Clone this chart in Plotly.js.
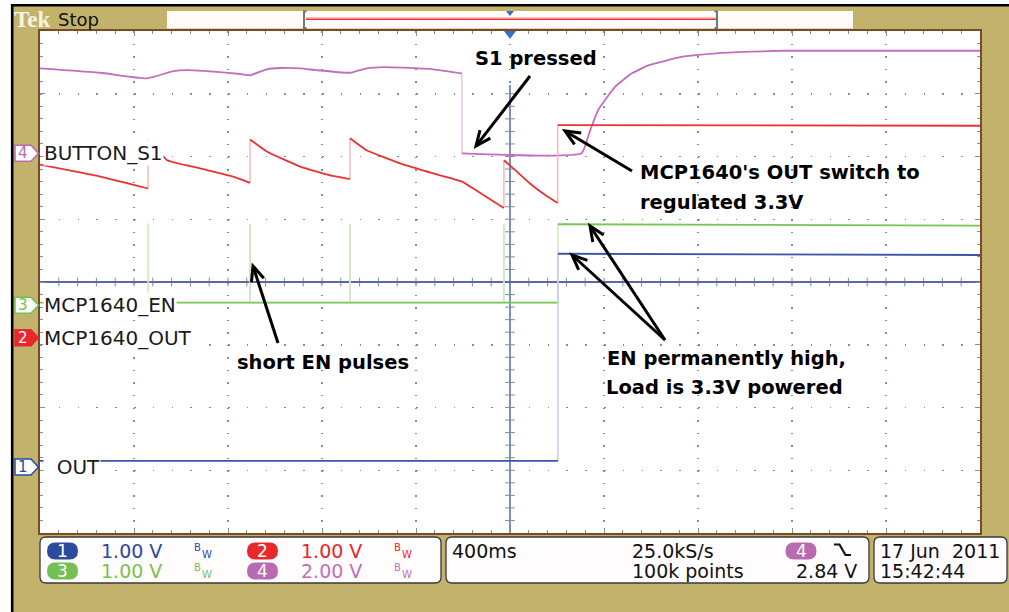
<!DOCTYPE html>
<html>
<head>
<meta charset="utf-8">
<script src="https://cdn.plot.ly/plotly-3.0.1.min.js"></script>
<style>html,body{margin:0;padding:0;background:#fff;}#chart{width:1009px;height:612px;}</style>
</head>
<body>
<div id="chart"></div>
<script>
// ---------------- data ----------------
const channelNumbers = ['1', '2', '3', '4'];
const channelNames   = ['OUT', 'MCP1640_OUT', 'MCP1640_EN', 'BUTTON_S1'];
const voltsPerDiv    = [1.00, 1.00, 1.00, 2.00];
const groundDiv      = [-2.95, -0.89, -0.37, 2.05];
const secPerDiv      = 0.4;

// CH1 OUT (blue)
const ch1Time  = [-2.00, 0.204, 0.204, 2.00];
const ch1Volts = [0.10, 0.10, 3.40, 3.38];

// CH2 MCP1640_OUT (red)
const ch2Time  = [-2.00, -1.744, -1.540, -1.540, -1.497, -1.459, -1.319, -1.178, -1.106, -1.106,
                  -1.035, -0.893, -0.753, -0.681, -0.681, -0.610, -0.468, -0.326, -0.204, -0.115,
                  -0.026, -0.026, 0.014, 0.085, 0.156, 0.203, 0.203, 2.00];
const ch2Volts = [2.76, 2.57, 2.38, 3.14, 2.99, 2.83, 2.70, 2.57, 2.47, 3.16,
                  2.97, 2.73, 2.58, 2.53, 3.18, 2.99, 2.78, 2.62, 2.49, 2.28,
                  2.07, 2.83, 2.70, 2.46, 2.26, 2.15, 3.39, 3.38];

// CH3 MCP1640_EN (green)
const ch3Time  = [-2.00, -1.539, -1.539, -1.539, -1.106, -1.106, -1.106, -0.681, -0.681, -0.681,
                  -0.026, -0.026, -0.026, 0.204, 0.204, 2.00];
const ch3Volts = [0.04, 0.04, 1.30, 0.04, 0.04, 1.30, 0.04, 0.04, 1.30, 0.04,
                  0.04, 1.30, 0.04, 0.04, 1.29, 1.27];

// CH4 BUTTON_S1 (purple)
const ch4Time  = [-2.00, -1.744, -1.545, -1.432, -1.375, -1.248, -1.148, -1.106, -1.035, -0.978,
                  -0.893, -0.822, -0.681, -0.610, -0.539, -0.454, -0.326, -0.205, -0.205, 0.304,
                  0.340, 0.375, 0.447, 0.519, 0.591, 0.735, 0.878, 1.022, 1.165, 2.00];
const ch4Volts = [2.71, 2.57, 2.39, 2.62, 2.65, 2.60, 2.53, 2.49, 2.68, 2.72,
                  2.71, 2.65, 2.57, 2.71, 2.75, 2.73, 2.68, 2.55, 0.00, 0.00,
                  0.71, 1.38, 2.12, 2.55, 2.81, 3.08, 3.19, 3.24, 3.27, 3.27];

const sampleRate   = '25.0kS/s';
const recordLength = '100k points';
const triggerLevel = '2.84 V';
const dateText     = '17 Jun\u00a0\u00a02011';
const timeText     = '15:42:44';

const callouts = ['S1 pressed', "MCP1640's OUT switch to", 'regulated 3.3V', 'short EN pulses',
                  'EN permanently high,', 'Load is 3.3V powered'];

// ---------------- styling ----------------
const KHAKI = '#c3b26c', BROWN = '#7a4a24', DOT = '#7d8ab2', CROSS = '#5b6a9c';
const traceColor = ['#3b55a8', '#ec3035', '#78c455', '#c46cbe'];
const edgeColor  = ['#c5cbe8', '#f7b9bb', '#cfe9c2', '#eec3ea'];
const pillColor  = ['#2b4c9e', '#e8282b', '#74c052', '#b96bb2'];
const textColor  = ['#2b4a9b', '#e8262b', '#7cc050', '#c070b8'];
const smooth     = [false, true, false, true];

// plot area in pixels
const L = 40, T = 31, W = 940, H = 502;
const PX = px => (px - L) / W;
const PY = py => (T + H - py) / H;
const divPx = H / 8;
const groundPx = g => T + H / 2 - g * divPx;

// ---------------- traces ----------------
const chTimes = [ch1Time, ch2Time, ch3Time, ch4Time];
const chVolts = [ch1Volts, ch2Volts, ch3Volts, ch4Volts];

function channelTraces(i) {
  const t = chTimes[i], v = chVolts[i];
  const main = {x: [], y: []}, edge = {x: [], y: []};
  for (let k = 0; k < t.length; k++) {
    const y = v[k] / voltsPerDiv[i] + groundDiv[i];
    if (k > 0 && t[k] === t[k - 1]) {
      const yPrev = v[k - 1] / voltsPerDiv[i] + groundDiv[i];
      edge.x.push(t[k - 1], t[k], null); edge.y.push(yPrev, y, null);
      main.x.push(null); main.y.push(null);
    }
    main.x.push(t[k]); main.y.push(y);
  }
  const line = {color: traceColor[i], width: 1.8};
  if (smooth[i]) { line.shape = 'spline'; line.smoothing = 0.4; }
  return [
    {type: 'scatter', mode: 'lines', x: edge.x, y: edge.y, hoverinfo: 'skip',
     line: {color: edgeColor[i], width: 1.5}},
    {type: 'scatter', mode: 'lines', x: main.x, y: main.y, hoverinfo: 'skip', line: line}
  ];
}
const data = [].concat(channelTraces(3), channelTraces(2), channelTraces(0), channelTraces(1));

// ---------------- shape helpers ----------------
function pathStr(cmds) {
  return cmds.map(c => {
    if (c[0] === 'Z') return 'Z';
    let s = c[0];
    for (let j = 1; j < c.length; j += 2) s += (j > 1 ? ' ' : '') + PX(c[j]).toFixed(5) + ',' + PY(c[j + 1]).toFixed(5);
    return s;
  }).join(' ');
}
function pathShape(cmds, fill, stroke, width, layer) {
  return {type: 'path', xref: 'paper', yref: 'paper', path: pathStr(cmds), layer: layer || 'above',
          fillcolor: fill || 'rgba(0,0,0,0)', line: {color: stroke || 'rgba(0,0,0,0)', width: width || 0}};
}
function rectPx(x0, y0, x1, y1, fill, stroke, width) {
  return {type: 'rect', xref: 'paper', yref: 'paper', x0: PX(x0), x1: PX(x1), y0: PY(y1), y1: PY(y0),
          fillcolor: fill, line: {color: stroke || 'rgba(0,0,0,0)', width: width || 0}, layer: 'above'};
}
function linePx(x0, y0, x1, y1, color, width) {
  return {type: 'line', xref: 'paper', yref: 'paper', x0: PX(x0), x1: PX(x1), y0: PY(y0), y1: PY(y1),
          line: {color: color, width: width}, layer: 'above'};
}
function rrect(x0, y0, x1, y1, r) {
  return [['M', x0 + r, y0], ['L', x1 - r, y0], ['Q', x1, y0, x1, y0 + r], ['L', x1, y1 - r],
          ['Q', x1, y1, x1 - r, y1], ['L', x0 + r, y1], ['Q', x0, y1, x0, y1 - r], ['L', x0, y0 + r],
          ['Q', x0, y0, x0 + r, y0], ['Z']];
}

const shapes = [];
// outer white margin + black frame
shapes.push(rectPx(0, 0, 1009, 4, '#ffffff'));
shapes.push(rectPx(0, 0, 11, 612, '#ffffff'));
shapes.push(linePx(11, 5.2, 1009, 5.2, '#000', 2.6));
shapes.push(linePx(12.2, 4, 12.2, 612, '#000', 2.6));

// status bar
shapes.push(rectPx(167, 11, 853, 28.5, '#fffbfb'));
shapes.push(linePx(306, 17.6, 716, 17.6, '#f5b8b8', 1));
shapes.push(linePx(306, 19.2, 716, 19.2, '#e83030', 1.6));
shapes.push(pathShape([['M', 306.5, 11.5], ['L', 304, 11.5], ['L', 304, 28], ['L', 306.5, 28]], null, '#6b7b78', 2));
shapes.push(pathShape([['M', 714.5, 11.5], ['L', 717, 11.5], ['L', 717, 28], ['L', 714.5, 28]], null, '#6b7b78', 2));
shapes.push(pathShape([['M', 506, 11], ['L', 514, 11], ['L', 510, 16], ['Z']], '#3a6cc8', null, 0));
// trigger position marker
shapes.push(pathShape([['M', 504, 31], ['L', 516, 31], ['L', 510, 39], ['Z']], '#3a6cc8', null, 0));

// centre crosshair (vertical part) and its ticks
const xTop = 3.14;
shapes.push({type: 'line', xref: 'x', yref: 'y', x0: 0, x1: 0, y0: -4, y1: xTop,
             line: {color: CROSS, width: 1.5}, layer: 'below'});
for (let k = -24; k <= 24; k++) {
  const x = k * secPerDiv / 5;
  shapes.push({type: 'line', xref: 'x', yref: 'y', x0: x, x1: x, y0: -0.07, y1: 0.07,
               line: {color: DOT, width: 1}, layer: 'below'});
}
for (let m = -19; m * 0.2 <= xTop; m++) {
  const y = m * 0.2;
  shapes.push({type: 'line', xref: 'x', yref: 'y', x0: -0.021, x1: 0.021, y0: y, y1: y,
               line: {color: DOT, width: 1}, layer: 'below'});
}

// channel ground markers on the left
for (let i = 0; i < 4; i++) {
  const cy = groundPx(groundDiv[i]);
  const selected = i === 1;
  shapes.push(pathShape([['M', 15, cy - 8], ['L', 31, cy - 8], ['L', 38.5, cy], ['L', 31, cy + 8], ['L', 15, cy + 8], ['Z']],
              selected ? pillColor[i] : '#ffffff', pillColor[i], 1.5));
}

// callout arrows (line + open head)
function arrowShapes(tx, ty, hx, hy) {
  const dx = hx - tx, dy = hy - ty, len = Math.hypot(dx, dy);
  const ux = dx / len, uy = dy / len, nx = -uy, ny = ux;
  const back = 15, half = 6.5;
  shapes.push(pathShape([['M', tx, ty], ['L', hx - ux * 1.5, hy - uy * 1.5]], null, '#000', 3));
  shapes.push(pathShape([['M', hx - ux * back + nx * half, hy - uy * back + ny * half], ['L', hx, hy],
                         ['L', hx - ux * back - nx * half, hy - uy * back - ny * half]], null, '#000', 3));
}
arrowShapes(530, 76, 476, 146);
arrowShapes(632, 171, 565, 131);
arrowShapes(278, 343, 253, 266);
arrowShapes(665, 340, 590, 226);
arrowShapes(665, 340, 572, 255);

// bottom readout panels
shapes.push(pathShape(rrect(40, 537, 441, 583, 6), '#fefcfc', '#3a3a3a', 1.3));
shapes.push(pathShape(rrect(446, 537, 869, 583, 6), '#fefcfc', '#3a3a3a', 1.3));
shapes.push(pathShape(rrect(874, 537, 1007, 583, 6), '#fefcfc', '#3a3a3a', 1.3));
// channel pills
const pillPos = [[62.5, 551], [262.5, 551], [62.5, 571], [262.5, 571]];
for (let i = 0; i < 4; i++) {
  const [cx, cy] = pillPos[i];
  shapes.push(pathShape(rrect(cx - 15.5, cy - 8.5, cx + 15.5, cy + 8.5, 8.5), pillColor[i], null, 0));
}
// trigger source pill and slope symbol
shapes.push(pathShape(rrect(785.5, 542.5, 816.5, 559.5, 8.5), pillColor[3], null, 0));
shapes.push(pathShape([['M', 834, 544.5], ['L', 839.5, 544.5], ['L', 845.5, 555], ['L', 851, 555]], null, '#111', 2.2));

// ---------------- annotations ----------------
const annotations = [];
function ann(text, px, py, o) {
  o = o || {};
  annotations.push({text: text, xref: 'paper', yref: 'paper', x: PX(px), y: PY(py),
    xanchor: o.xa || 'left', yanchor: 'middle', showarrow: false,
    bgcolor: o.bg || 'rgba(0,0,0,0)', borderpad: o.pad === undefined ? 1 : o.pad,
    font: {family: o.family || 'DejaVu Sans', size: o.size || 19, color: o.color || '#111',
           weight: o.weight || 'normal'}});
}

// status bar text
ann('Tek', 12, 19, {family: 'Liberation Serif', size: 23, weight: 'bold', color: '#f6f2e4'});
ann('Stop', 56, 19.5, {size: 18, color: '#111'});

// channel labels
const labelPrefix = ['\u00a0\u00a0', '', '', ''];
for (let i = 0; i < 4; i++) {
  const cy = groundPx(groundDiv[i]);
  ann(labelPrefix[i] + channelNames[i], 42.5, cy, {size: 20, color: '#1a1a1a', bg: '#ffffff', pad: 0});
  ann(channelNumbers[i], 23, cy, {xa: 'center', size: 15, color: i === 1 ? '#ffffff' : pillColor[i], pad: 0});
}

// callouts
const calloutPos = [[473, 59], [638, 173], [638, 202], [235, 362], [605, 358], [604, 387]];
callouts.forEach((c, k) => ann(c, calloutPos[k][0], calloutPos[k][1], {size: 19.5, weight: 'bold', color: '#000'}));

// readout: channel scales
const scaleText = voltsPerDiv.map(v => v.toFixed(2) + ' V');
const scaleX = [100, 300, 100, 300], bwX = [193, 393, 193, 393];
for (let i = 0; i < 4; i++) {
  const cy = pillPos[i][1];
  ann(channelNumbers[i], pillPos[i][0], cy, {xa: 'center', size: 17, color: '#ffffff', pad: 0});
  ann(scaleText[i], scaleX[i], cy, {size: 19, color: textColor[i], pad: 0});
  ann('B', bwX[i], cy - 3.5, {size: 10, color: textColor[i], pad: 0});
  ann('W', bwX[i] + 7.6, cy + 3.5, {size: 10, color: textColor[i], pad: 0});
}
// readout: timebase / trigger
ann(Math.round(secPerDiv * 1000) + 'ms', 451, 551, {size: 19, pad: 0});
ann(sampleRate, 631, 551, {size: 19, pad: 0});
ann(recordLength, 631, 571, {size: 19, pad: 0});
ann(channelNumbers[3], 801, 551, {xa: 'center', size: 17, color: '#ffffff', pad: 0});
ann(triggerLevel, 858, 571, {xa: 'right', size: 19, pad: 0});
ann(dateText, 879, 551, {size: 19, pad: 0});
ann(timeText, 879, 571, {size: 19, pad: 0});

// ---------------- layout ----------------
const axisCommon = {
  showgrid: true, gridcolor: DOT, gridwidth: 1.5,
  showline: true, linecolor: BROWN, linewidth: 2, mirror: 'ticks',
  ticks: 'inside', ticklen: 5, tickwidth: 1, tickcolor: DOT,
  showticklabels: false, fixedrange: true
};
const layout = {
  width: 1009, height: 612,
  margin: {l: L, r: 1009 - L - W, t: T, b: 612 - T - H, pad: 0},
  paper_bgcolor: KHAKI, plot_bgcolor: '#ffffff',
  showlegend: false, hovermode: false,
  xaxis: Object.assign({}, axisCommon, {
    range: [-5 * secPerDiv, 5 * secPerDiv], tick0: 0, dtick: secPerDiv,
    griddash: '1.5px,11.05px', zeroline: false,
    minor: {dtick: secPerDiv / 5, tick0: 0, ticks: 'inside', ticklen: 3, tickwidth: 1, tickcolor: DOT, showgrid: false}
  }),
  yaxis: Object.assign({}, axisCommon, {
    range: [-4, 4], tick0: 0, dtick: 1,
    griddash: '1.5px,17.3px', zeroline: true, zerolinecolor: CROSS, zerolinewidth: 1.5,
    minor: {dtick: 0.2, tick0: 0, ticks: 'inside', ticklen: 3, tickwidth: 1, tickcolor: DOT, showgrid: false}
  }),
  shapes: shapes,
  annotations: annotations
};

Plotly.newPlot('chart', data, layout, {staticPlot: true, displayModeBar: false});
</script>
</body>
</html>
